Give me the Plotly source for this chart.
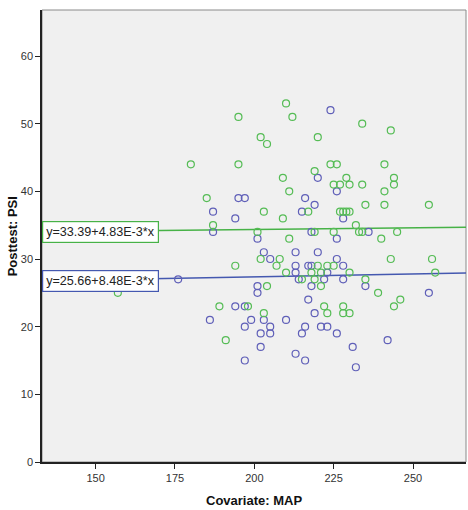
import plotly.graph_objects as go

# ---- data ----
green_x = [157, 180, 185, 187, 189, 191, 194, 195, 195, 198, 202, 204, 203, 201, 202, 203, 204, 207, 208,
           210, 212, 220, 224, 226, 219, 209, 229, 211, 225, 227, 230, 217, 209, 227, 228, 229, 230, 219,
           211, 225, 232, 233, 234, 240, 245, 255, 234, 243, 241, 244, 244, 241, 241, 235, 234, 210, 218,
           221, 230, 257, 215, 219, 235, 221, 239, 246, 222, 228, 244, 223, 228, 230, 220, 223, 225, 243, 256]
green_y = [25, 44, 39, 35, 23, 18, 29, 51, 44, 23, 48, 47, 37, 34, 30, 22, 26, 29, 30,
           53, 51, 48, 44, 44, 43, 42, 42, 40, 41, 41, 41, 37, 36, 37, 37, 37, 37, 34,
           33, 34, 35, 34, 34, 33, 34, 38, 50, 49, 44, 42, 41, 40, 38, 38, 41, 28, 28,
           28, 28, 28, 27, 27, 27, 26, 25, 24, 23, 23, 23, 22, 22, 22, 29, 29, 29, 30, 30]

blue_x = [176, 186, 187, 187, 194, 195, 197, 201, 194, 197, 199, 203, 197, 205, 202, 205, 202, 197, 201,
          201, 203, 205, 213, 220, 226, 213, 217, 218, 228, 213, 223, 214, 222, 228, 218, 235, 255, 217,
          219, 210, 216, 221, 223, 215, 226, 242, 231, 213, 216, 232, 224, 220, 226, 216, 219, 215, 228,
          218, 226, 236]
blue_y = [27, 21, 37, 34, 36, 39, 39, 33, 23, 23, 21, 21, 20, 20, 19, 19, 17, 15, 26,
          25, 31, 30, 31, 31, 30, 29, 29, 29, 29, 28, 28, 27, 27, 27, 26, 26, 25, 24,
          22, 21, 20, 20, 20, 19, 19, 18, 17, 16, 15, 14, 52, 42, 40, 39, 38, 37, 36,
          34, 33, 34]

green_fit = (33.39, 4.83e-3)
blue_fit = (25.66, 8.48e-3)
green_label = "y=33.39+4.83E-3*x"
blue_label = "y=25.66+8.48E-3*x"

x_range = [133.1, 266.7]
y_range = [0, 66.8]
x_ticks = [150, 175, 200, 225, 250]
y_ticks = [0, 10, 20, 30, 40, 50, 60]

GREEN = "#55BC55"
BLUE = "#5F5FB8"
GREEN_LINE = "#47B247"
BLUE_LINE = "#4458B0"
FONT = "Arial, Liberation Sans, sans-serif"

fig = go.Figure()

for fit, col in ((green_fit, GREEN_LINE), (blue_fit, BLUE_LINE)):
    a, b = fit
    fig.add_trace(go.Scatter(
        x=x_range, y=[a + b * x_range[0], a + b * x_range[1]],
        mode="lines", line=dict(color=col, width=1.5),
        hoverinfo="skip", showlegend=False))

fig.add_trace(go.Scatter(
    x=blue_x, y=blue_y, mode="markers", showlegend=False,
    marker=dict(symbol="circle-open", size=7, color=BLUE, line=dict(width=1.2, color=BLUE))))
fig.add_trace(go.Scatter(
    x=green_x, y=green_y, mode="markers", showlegend=False,
    marker=dict(symbol="circle-open", size=7, color=GREEN, line=dict(width=1.2, color=GREEN))))

annotations = []
for fit, col, txt in ((green_fit, GREEN_LINE, green_label), (blue_fit, BLUE_LINE, blue_label)):
    a, b = fit
    annotations.append(dict(
        x=0, xref="paper", xanchor="left", y=a + b * x_range[0], yref="y", yanchor="middle",
        text=txt, showarrow=False, bgcolor="white", bordercolor=col, borderwidth=1.2,
        borderpad=3, font=dict(family=FONT, size=12.6, color="#222")))

annotations.append(dict(
    x=0.5, xref="paper", y=-0.085, yref="paper", yanchor="middle",
    text="<b>Covariate: MAP</b>", showarrow=False,
    font=dict(family=FONT, size=13, color="#111")))
annotations.append(dict(
    x=-0.07, xref="paper", xanchor="center", y=0.5, yref="paper", yanchor="middle",
    text="<b>Posttest: PSI</b>", showarrow=False, textangle=-90,
    font=dict(family=FONT, size=13, color="#111")))

fig.update_layout(
    width=468, height=510,
    margin=dict(l=42, r=2, t=10, b=48),
    paper_bgcolor="white",
    plot_bgcolor="#F0F0F0",
    font=dict(family=FONT, size=11, color="#333"),
    annotations=annotations,
    shapes=[dict(type="rect", xref="paper", yref="paper", x0=0, x1=1, y0=0, y1=1,
                 line=dict(color="#8A8A8A", width=1), layer="below")],
    xaxis=dict(range=x_range, tickvals=x_ticks, showgrid=False, zeroline=False,
               showline=True, linecolor="#222", linewidth=1.5, ticks="outside",
               ticklen=5, tickcolor="#222", tickfont=dict(size=11, color="#333")),
    yaxis=dict(range=y_range, tickvals=y_ticks, showgrid=False, zeroline=False,
               showline=True, linecolor="#222", linewidth=1.5, ticks="outside",
               ticklen=5, tickcolor="#222", tickfont=dict(size=11, color="#333")),
)

fig.write_html("out.html")
